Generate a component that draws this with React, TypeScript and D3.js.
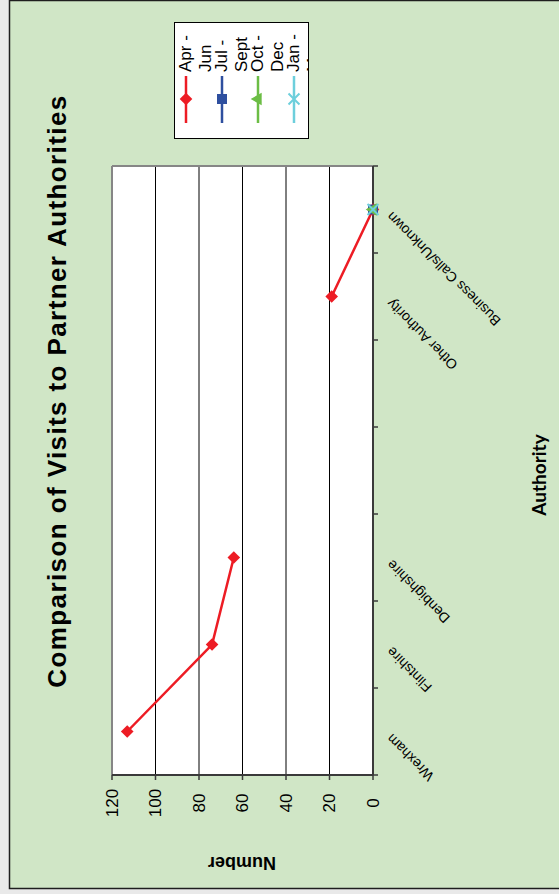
import React from "react";
import * as d3 from "d3";

// Authorities along the category axis (two unlabelled slots between Denbighshire and Other Authority)
const categories = [
  "Wrexham",
  "Flintshire",
  "Denbighshire",
  "",
  "",
  "Other Authority",
  "Business Calls/Unknown",
];

const seriesNames = ["Apr - Jun", "Jul - Sept", "Oct - Dec", "Jan - Mar"];

// Visits per authority for each quarter (null = no value recorded)
const aprJun = [113, 74, 64, null, null, 19, 0];
const julSep = [null, null, null, null, null, null, 0];
const octDec = [null, null, null, null, null, null, 0];
const janMar = [null, null, null, null, null, null, 0];

const valueTicks = [0, 20, 40, 60, 80, 100, 120];

const W = 559;
const H = 894;
const FONT = "'Liberation Sans', Arial, Helvetica, sans-serif";

const seriesData = [aprJun, julSep, octDec, janMar];
const seriesColors = ["#ed1c24", "#2e4f9f", "#6cbd45", "#6dcfdc"];
const seriesShapes = ["diamond", "square", "triangle", "x"];

function Marker({ shape, color, x, y }: { shape: string; color: string; x: number; y: number }) {
  if (shape === "diamond") {
    const p = d3.symbol(d3.symbolSquare, 80)();
    return <path d={p || ""} transform={`translate(${x},${y}) rotate(45)`} fill={color} />;
  }
  if (shape === "square") {
    const p = d3.symbol(d3.symbolSquare, 100)();
    return <path d={p || ""} transform={`translate(${x},${y})`} fill={color} />;
  }
  if (shape === "triangle") {
    const p = d3.symbol(d3.symbolTriangle, 70)();
    return <path d={p || ""} transform={`translate(${x},${y}) rotate(-90)`} fill={color} />;
  }
  const times = (d3 as any).symbolTimes;
  const p = times ? d3.symbol(times, 80)() : d3.symbol(d3.symbolCross, 80)();
  return (
    <path
      d={p || ""}
      transform={`translate(${x},${y})${times ? "" : " rotate(45)"}`}
      fill={times ? "none" : color}
      stroke={color}
      strokeWidth={times ? 2 : 0}
    />
  );
}

export default function App() {
  const plotLeft = 112;
  const plotRight = 373;
  const plotTop = 166;
  const plotBottom = 775;

  // Value axis runs right-to-left across the page, categories bottom-to-top
  const x = d3.scaleLinear().domain([0, 120]).range([plotRight, plotLeft]);
  const y = d3
    .scaleBand<number>()
    .domain(categories.map((_, i) => i))
    .range([plotBottom, plotTop])
    .padding(0);
  const bw = y.bandwidth();
  const cy = (i: number) => (y(i) as number) + bw / 2;

  const line = d3
    .line<number | null>()
    .defined((d) => d !== null)
    .x((d) => x(d as number))
    .y((_, i) => cy(i));

  const catEdges = d3.range(categories.length + 1).map((i) => plotBottom - i * bw);

  // legend layout
  const legX0 = 174;
  const legY0 = 22;
  const legW = 134;
  const legH = 116;
  const entryStep = 36;
  const firstEntry = 186;

  return (
    <svg
      width={W}
      height={H}
      style={{ position: "absolute", left: 0, top: 0, display: "block" }}
      fontFamily={FONT}
    >
      <defs>
        <clipPath id="legend-clip">
          <rect x={legX0} y={legY0} width={legW} height={legH} />
        </clipPath>
      </defs>
      <rect x={0} y={0} width={W} height={H} fill="#e9e9e9" />
      <rect x={9.5} y={0.5} width={W + 10} height={888} fill="#d0e6c6" stroke="#1e1e1e" strokeWidth={1.5} />

      {/* title */}
      <text
        transform={`translate(57,391) rotate(-90)`}
        textAnchor="middle"
        dominantBaseline="central"
        fontWeight="bold"
        fontSize={26}
        letterSpacing={1.4}
        fill="#000"
      >
        Comparison of Visits to Partner Authorities
      </text>

      {/* plot area */}
      <rect x={plotLeft} y={plotTop} width={plotRight - plotLeft} height={plotBottom - plotTop} fill="#fff" />
      {valueTicks
        .filter((v) => v > 0 && v < 120)
        .map((v) => (
          <line key={`g${v}`} x1={x(v)} x2={x(v)} y1={plotTop} y2={plotBottom} stroke="#000" strokeWidth={1} />
        ))}
      <line x1={plotLeft} x2={plotLeft} y1={plotTop} y2={plotBottom} stroke="#868686" strokeWidth={2} />
      <line x1={plotLeft} x2={plotRight} y1={plotTop} y2={plotTop} stroke="#868686" strokeWidth={2} />

      {/* category axis */}
      <line x1={plotRight} x2={plotRight} y1={plotTop} y2={plotBottom} stroke="#3a3a3a" strokeWidth={2} />
      {catEdges.map((e, i) => (
        <line key={`ct${i}`} x1={plotRight} x2={plotRight + 5} y1={e} y2={e} stroke="#3a3a3a" strokeWidth={1.5} />
      ))}
      {categories.map((c, i) =>
        c ? (
          <text
            key={`cl${i}`}
            transform={`translate(${plotRight + 16},${cy(i) + 5}) rotate(-135)`}
            textAnchor="end"
            dominantBaseline="central"
            fontSize={14}
            fill="#000"
          >
            {c}
          </text>
        ) : null
      )}

      {/* value axis */}
      <line x1={plotLeft} x2={plotRight} y1={plotBottom} y2={plotBottom} stroke="#3a3a3a" strokeWidth={2} />
      {valueTicks.map((v) => (
        <g key={`vt${v}`}>
          <line x1={x(v)} x2={x(v)} y1={plotBottom} y2={plotBottom + 5} stroke="#3a3a3a" strokeWidth={1.5} />
          <text
            transform={`translate(${x(v)},803) rotate(-90)`}
            textAnchor="middle"
            dominantBaseline="central"
            fontSize={17}
            fill="#000"
          >
            {v}
          </text>
        </g>
      ))}

      {/* axis titles */}
      <text
        transform="translate(242,863) rotate(180)"
        textAnchor="middle"
        dominantBaseline="central"
        fontWeight="bold"
        fontSize={18}
        fill="#000"
      >
        Number
      </text>
      <text
        transform="translate(538,475) rotate(-90)"
        textAnchor="middle"
        dominantBaseline="central"
        fontWeight="bold"
        fontSize={19}
        fontFamily="Lato, 'Open Sans', sans-serif"
        fill="#000"
      >
        Authority
      </text>

      {/* series */}
      {seriesData.map((s, k) => (
        <path key={`l${k}`} d={line(s) || ""} fill="none" stroke={seriesColors[k]} strokeWidth={2.5} />
      ))}
      {seriesData.map((s, k) =>
        s.map((v, i) =>
          v === null ? null : (
            <Marker key={`m${k}-${i}`} shape={seriesShapes[k]} color={seriesColors[k]} x={x(v)} y={cy(i)} />
          )
        )
      )}

      {/* legend */}
      <rect x={legX0 + 0.5} y={legY0 + 0.5} width={legW} height={legH} fill="#fff" stroke="#000" strokeWidth={1} />
      <g clipPath="url(#legend-clip)">
        {seriesNames.map((name, k) => {
          const lx = firstEntry + k * entryStep;
          const parts = name.split(" - ");
          const lines = [parts[0] + " -", parts[1]];
          return (
            <g key={`lg${k}`}>
              <line x1={lx} x2={lx} y1={76} y2={123} stroke={seriesColors[k]} strokeWidth={2.5} />
              <Marker shape={seriesShapes[k]} color={seriesColors[k]} x={lx} y={99} />
              {lines.map((t, j) => (
                <text
                  key={j}
                  transform={`translate(${lx - 1 + j * 20},72) rotate(-90)`}
                  textAnchor="start"
                  dominantBaseline="central"
                  fontSize={17}
                  fill="#000"
                >
                  {t}
                </text>
              ))}
            </g>
          );
        })}
      </g>
    </svg>
  );
}
